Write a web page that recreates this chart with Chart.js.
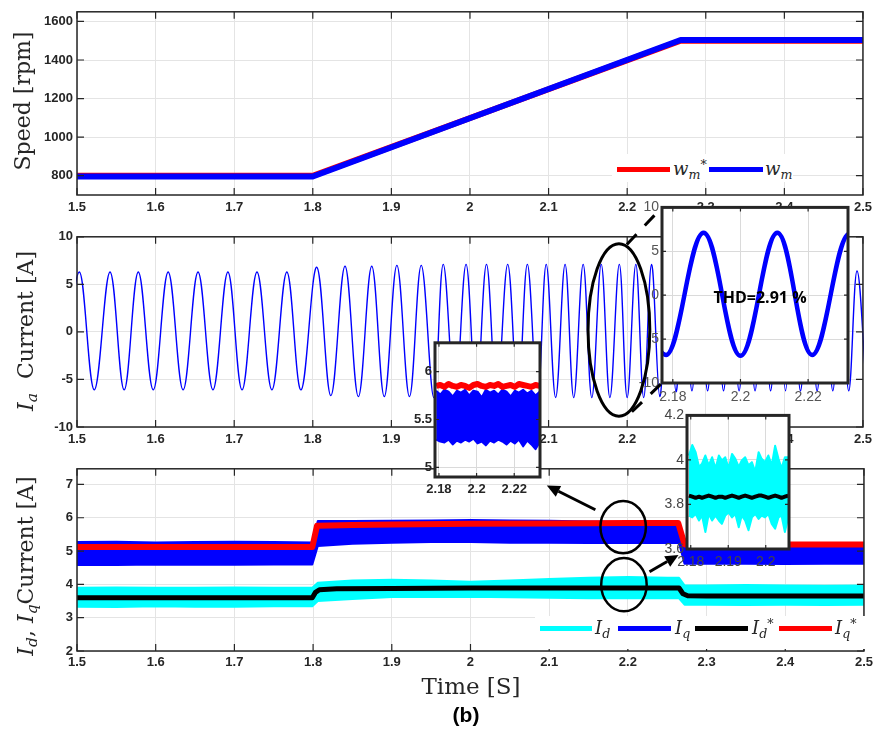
<!DOCTYPE html>
<html>
<head>
<meta charset="utf-8">
<script src="https://cdn.jsdelivr.net/npm/chart.js@4.4.1/dist/chart.umd.min.js"></script>
<style>
html,body{margin:0;padding:0;background:#fff;}
#fig{position:relative;width:877px;height:737px;overflow:hidden;background:#fff;}
#fig canvas{position:absolute;}
.ylab{position:absolute;transform:translate(-50%,-50%) rotate(-90deg);white-space:nowrap;
  font-family:'DejaVu Serif',serif;font-size:22px;color:#262626;}
.ylab i,.lg i{font-style:italic;}
.ylab sub,.lg sub{font-size:70%;vertical-align:-0.3em;line-height:0;}
.lg sup{font-size:70%;vertical-align:0.5em;line-height:0;}
.lg{position:absolute;background:#fff;}
.lg .ln{position:absolute;height:5px;}
.lg .tx{position:absolute;font-family:'DejaVu Serif',serif;font-size:18px;color:#262626;line-height:24px;height:24px;white-space:nowrap;}
.txt{position:absolute;transform:translate(-50%,-50%);white-space:nowrap;}
</style>
</head>
<body>
<div id="fig">
  <canvas id="cSpeed" width="877" height="225" style="left:0;top:0"></canvas>
  <canvas id="cIa" width="877" height="232" style="left:0;top:225px"></canvas>
  <canvas id="cIdq" width="877" height="224" style="left:0;top:457px"></canvas>
  <canvas id="cInIa" width="222" height="211" style="left:632px;top:196px"></canvas>
  <canvas id="cInIq" width="137" height="169" style="left:409px;top:332px"></canvas>
  <canvas id="cInId" width="136" height="169" style="left:659px;top:404px"></canvas>
  <canvas id="cOver" width="877" height="737" style="left:0;top:0;pointer-events:none"></canvas>

  <div class="ylab" style="left:22px;top:101px">Speed [rpm]</div>
  <div class="ylab" style="left:25px;top:331px"><i>I</i><sub><i>a</i></sub>&nbsp; Current [A]</div>
  <div class="ylab" style="left:25px;top:566px"><i>I</i><sub><i>d</i></sub>, <i>I</i><sub><i>q</i></sub>Current [A]</div>

  <div class="lg" style="left:612px;top:154px;width:181px;height:28px">
    <div class="ln" style="left:5px;top:13px;width:53px;background:#ff0000"></div>
    <div class="tx" style="left:61px;top:3px"><i>w</i><sub><i>m</i></sub><sup>*</sup></div>
    <div class="ln" style="left:97px;top:13px;width:54px;background:#0000ff"></div>
    <div class="tx" style="left:153px;top:3px"><i>w</i><sub><i>m</i></sub></div>
  </div>

  <div class="lg" style="left:535px;top:616px;width:330px;height:33px">
    <div class="ln" style="left:5px;top:10px;width:52px;background:#00ffff"></div>
    <div class="tx" style="left:60px;top:0"><i>I</i><sub><i>d</i></sub></div>
    <div class="ln" style="left:83px;top:10px;width:53px;background:#0000ff"></div>
    <div class="tx" style="left:140px;top:0"><i>I</i><sub><i>q</i></sub></div>
    <div class="ln" style="left:160px;top:10px;width:53px;background:#000000"></div>
    <div class="tx" style="left:217px;top:0"><i>I</i><sub><i>d</i></sub><sup>*</sup></div>
    <div class="ln" style="left:244px;top:10px;width:53px;background:#ff0000"></div>
    <div class="tx" style="left:300px;top:0"><i>I</i><sub><i>q</i></sub><sup>*</sup></div>
  </div>

  <div class="txt" style="left:760px;top:297px;font-family:'Open Sans',sans-serif;font-weight:bold;font-size:16px;color:#000">THD=2.91 %</div>
  <div class="txt" style="left:471px;top:686px;font-family:'DejaVu Serif',serif;font-size:23px;color:#262626">Time [S]</div>
  <div class="txt" style="left:466px;top:715px;font-family:'Liberation Sans',Arial,sans-serif;font-weight:bold;font-size:21px;color:#000">(b)</div>
</div>

<script>
'use strict';

// ═══ DATA ═══
// axis ticks
var xTicksMain = [1.5, 1.6, 1.7, 1.8, 1.9, 2, 2.1, 2.2, 2.3, 2.4, 2.5];
var spTicks    = [800, 1000, 1200, 1400, 1600];
var iaTicks    = [-10, -5, 0, 5, 10];
var idqTicks   = [2, 3, 4, 5, 6, 7];
var inIaXTicks = [2.18, 2.2, 2.22];
var inIqXTicks = [2.18, 2.2, 2.22];
var inIqYTicks = [5, 5.5, 6];
var inIdXTicks = [2.18, 2.19, 2.2];
var inIdYTicks = [3.6, 3.8, 4, 4.2];

// speed: reference and measured
var spT    = [1.5, 1.8, 2.268, 2.5];
var spRef  = [800, 800, 1500, 1500];
var spMeas = [796, 796, 1504, 1504];

// phase current: extrema (time, value)
var iaT = [1.4845, 1.503, 1.522, 1.542, 1.560, 1.578, 1.597, 1.616, 1.635, 1.654, 1.673, 1.692, 1.710, 1.729,
  1.748, 1.767, 1.785, 1.805, 1.823, 1.841, 1.858, 1.875, 1.891, 1.907, 1.923, 1.938, 1.954, 1.966, 1.981,
  1.995, 2.008, 2.021, 2.034, 2.048, 2.061, 2.073, 2.086, 2.097, 2.109, 2.121, 2.132, 2.144, 2.155, 2.167,
  2.178, 2.190, 2.200, 2.211, 2.221, 2.231, 2.2415, 2.2518, 2.2621, 2.2722, 2.2824, 2.2923, 2.3023, 2.3125,
  2.3226, 2.3325, 2.3424, 2.3525, 2.3627, 2.3726, 2.3825, 2.3920, 2.4015, 2.4110, 2.4205, 2.4311, 2.4417,
  2.4516, 2.4616, 2.4717, 2.4819, 2.4924, 2.5045];
var iaV = [-6.1, 6.3, -6.1, 6.3, -6.1, 6.3, -6.1, 6.3, -6.1, 6.3, -6.1, 6.3, -6.1, 6.3,
  -6.1, 6.3, -6.1, 6.8, -6.7, 6.9, -6.8, 6.9, -6.8, 7.0, -6.8, 7.0, -6.9, 7.1, -6.9,
  7.1, -6.9, 7.1, -6.9, 7.1, -6.9, 7.1, -6.9, 7.1, -6.9, 7.1, -6.9, 7.1, -6.9, 7.1,
  -6.9, 7.1, -6.9, 7.1, -6.9, 7.1, -6.8, 6.8, -6.3, 6.4, -6.2, 6.4, -6.2, 6.4,
  -6.2, 6.4, -6.2, 6.4, -6.2, 6.4, -6.2, 6.4, -6.2, 6.4, -6.2, 6.4, -6.2,
  6.4, -6.2, 6.4, -6.2, 6.4, -6.2];

// zoomed phase current (inset)
var inIaT = [2.168, 2.178, 2.1891, 2.2, 2.2109, 2.2212, 2.2322, 2.2425];
var inIaV = [7.0, -6.8, 7.1, -6.9, 7.1, -6.8, 7.0, -6.8];

// dq currents: noise envelopes (upper / lower) and references
var dqT  = [1.5, 1.55, 1.6, 1.65, 1.7, 1.75, 1.799, 1.806, 1.85, 1.9, 1.95, 2.0, 2.05, 2.1, 2.15, 2.2, 2.25, 2.265, 2.272, 2.3, 2.35, 2.4, 2.45, 2.5];
var iqHi = [5.27, 5.28, 5.26, 5.27, 5.28, 5.27, 5.26, 5.9, 5.9, 5.91, 5.92, 5.93, 5.92, 5.91, 5.89, 5.87, 5.86, 5.86, 5.16, 5.15, 5.16, 5.15, 5.17, 5.16];
var iqLo = [4.58, 4.58, 4.6, 4.59, 4.59, 4.6, 4.6, 5.15, 5.22, 5.25, 5.27, 5.27, 5.25, 5.25, 5.24, 5.24, 5.24, 5.24, 4.62, 4.62, 4.62, 4.61, 4.62, 4.62];
var idHi = [3.9, 3.91, 3.9, 3.9, 3.91, 3.9, 3.9, 4.05, 4.12, 4.14, 4.12, 4.08, 4.12, 4.16, 4.2, 4.22, 4.2, 4.2, 3.97, 3.97, 3.98, 3.97, 3.96, 3.97];
var idLo = [3.33, 3.32, 3.34, 3.33, 3.33, 3.34, 3.34, 3.5, 3.56, 3.62, 3.62, 3.63, 3.61, 3.6, 3.58, 3.58, 3.58, 3.58, 3.39, 3.39, 3.38, 3.39, 3.38, 3.39];
var idRefT = [1.5, 1.799, 1.803, 1.808, 1.83, 1.9, 2.0, 2.1, 2.2, 2.265, 2.27, 2.276, 2.3, 2.5];
var idRefV = [3.6, 3.6, 3.76, 3.84, 3.87, 3.88, 3.89, 3.89, 3.89, 3.89, 3.72, 3.66, 3.65, 3.65];
var iqRefT = [1.5, 1.799, 1.805, 1.85, 1.9, 2.0, 2.1, 2.2, 2.264, 2.272, 2.5];
var iqRefV = [5.12, 5.12, 5.76, 5.78, 5.8, 5.82, 5.83, 5.84, 5.84, 5.2, 5.2];

// zoomed Iq (inset, 2.178 .. 2.234)
var inIqT = [2.1785, 2.1807, 2.1829, 2.1851, 2.1873, 2.1895, 2.1917, 2.1939, 2.1961, 2.1983, 2.2005, 2.2027, 2.2049,
  2.2071, 2.2093, 2.2115, 2.2137, 2.2159, 2.2181, 2.2203, 2.2225, 2.2247, 2.2269, 2.2291, 2.2313, 2.2335];
var inIqHi = [5.80, 5.76, 5.81, 5.79, 5.74, 5.80, 5.78, 5.81, 5.75, 5.80, 5.79, 5.73, 5.81, 5.78, 5.80, 5.76, 5.81,
  5.79, 5.74, 5.80, 5.78, 5.81, 5.77, 5.80, 5.75, 5.79];
var inIqLo = [5.29, 5.27, 5.26, 5.29, 5.24, 5.28, 5.26, 5.29, 5.27, 5.30, 5.25, 5.27, 5.23, 5.28, 5.26, 5.29, 5.27,
  5.24, 5.28, 5.25, 5.29, 5.22, 5.28, 5.24, 5.19, 5.26];
var inIqRef = [5.85, 5.86, 5.84, 5.87, 5.85, 5.84, 5.86, 5.85, 5.83, 5.86, 5.87, 5.85, 5.84, 5.86, 5.85, 5.87, 5.84,
  5.85, 5.86, 5.84, 5.87, 5.86, 5.85, 5.84, 5.86, 5.85];

// zoomed Id (inset, 2.179 .. 2.206)
var inIdT = [2.1795, 2.1804, 2.1813, 2.1822, 2.1830, 2.1839, 2.1848, 2.1857, 2.1866, 2.1875, 2.1883, 2.1892, 2.1901,
  2.1910, 2.1919, 2.1928, 2.1936, 2.1945, 2.1954, 2.1963, 2.1972, 2.1981, 2.1989, 2.1998, 2.2007, 2.2016, 2.2025,
  2.2034, 2.2042, 2.2051, 2.2060];
var inIdHi = [4.02, 4.067, 4.035, 3.969, 3.983, 4.02, 3.976, 4.012, 3.962, 4.02, 3.998, 4.012, 3.962, 4.027, 4.005,
  3.969, 3.998, 4.012, 3.976, 3.990, 3.947, 4.035, 4.005, 3.990, 4.02, 3.976, 4.064, 4.005, 3.962, 4.012, 4.012];
var inIdLo = [3.750, 3.742, 3.757, 3.728, 3.750, 3.676, 3.757, 3.728, 3.750, 3.728, 3.713, 3.750, 3.764, 3.742, 3.757,
  3.698, 3.750, 3.728, 3.684, 3.742, 3.757, 3.735, 3.750, 3.742, 3.757, 3.713, 3.691, 3.742, 3.750, 3.676, 3.742];
var inIdRef = [3.84, 3.835, 3.83, 3.835, 3.83, 3.835, 3.84, 3.835, 3.83, 3.835, 3.835, 3.83, 3.835, 3.84, 3.835,
  3.83, 3.835, 3.84, 3.835, 3.83, 3.835, 3.84, 3.84, 3.835, 3.83, 3.835, 3.84, 3.835, 3.83, 3.835, 3.84];

// annotations, in data units of the panel they sit on
var ellIa  = {t: 2.1895, v: 0.2,  rt: 0.0393, rv: 9.06};
var ellIq  = {t: 2.194,  v: 5.72, rt: 0.0289, rv: 0.785};
var ellId  = {t: 2.195,  v: 3.99, rt: 0.0289, rv: 0.80};
var dashUp = {t: 2.1996, v: 9.2};
var dashDn = {t: 2.206,  v: -8.4};
var arrIq  = {t0: 2.1587, v0: 6.24, t1: 2.097,  v1: 6.97};
var arrId  = {t0: 2.2275, v0: 4.38, t1: 2.2643, v1: 4.88};

// ═══ HELPERS ═══
var BLUE = '#0000ff', RED = '#ff0000', CYAN = '#00ffff', BLACK = '#000000';
var AX = '#262626';

function pts(t, v){ return t.map(function(x, i){ return {x: x, y: v[i]}; }); }
function fmt(v){ return String(Math.round(v * 1000) / 1000); }

// MATLAB-ish box: white plot area, inward ticks, frame on top
var framePlugin = {
  id: 'frame',
  beforeDraw: function(c){
    var a = c.chartArea;
    c.ctx.save();
    c.ctx.fillStyle = '#fff';
    c.ctx.fillRect(a.left, a.top, a.right - a.left, a.bottom - a.top);
    c.ctx.restore();
  },
  afterDraw: function(c, args, o){
    var ctx = c.ctx, a = c.chartArea, L = o.tick;
    ctx.save();
    ctx.strokeStyle = AX;
    ctx.lineWidth = 1.2;
    ctx.beginPath();
    c.scales.x.ticks.forEach(function(t){
      var p = c.scales.x.getPixelForValue(t.value);
      ctx.moveTo(p, a.bottom); ctx.lineTo(p, a.bottom - L);
      ctx.moveTo(p, a.top); ctx.lineTo(p, a.top + L);
    });
    c.scales.y.ticks.forEach(function(t){
      var p = c.scales.y.getPixelForValue(t.value);
      ctx.moveTo(a.left, p); ctx.lineTo(a.left + L, p);
      ctx.moveTo(a.right, p); ctx.lineTo(a.right - L, p);
    });
    ctx.stroke();
    ctx.lineWidth = o.width;
    ctx.strokeRect(a.left, a.top, a.right - a.left, a.bottom - a.top);
    ctx.restore();
  }
};

function makeChart(id, cfg){
  return new Chart(document.getElementById(id), {
    type: 'line',
    data: { datasets: cfg.datasets },
    options: {
      responsive: false, animation: false, events: [],
      layout: { padding: cfg.pad, autoPadding: false },
      elements: { point: { radius: 0 }, line: { borderJoinStyle: 'round' } },
      plugins: { legend: { display: false }, tooltip: { enabled: false }, frame: { tick: cfg.tick, width: cfg.frameW } },
      scales: {
        x: {
          type: 'linear', min: cfg.x[0], max: cfg.x[1],
          afterBuildTicks: function(s){ s.ticks = cfg.xt.map(function(v){ return {value: v}; }); },
          afterFit: function(s){ s.height = cfg.xh; },
          grid: { color: cfg.grid, drawTicks: false },
          border: { display: false },
          ticks: { font: cfg.font, color: cfg.tc, padding: cfg.xp, autoSkip: false, maxRotation: 0, callback: fmt }
        },
        y: {
          type: 'linear', min: cfg.y[0], max: cfg.y[1],
          afterBuildTicks: function(s){ s.ticks = cfg.yt.map(function(v){ return {value: v}; }); },
          afterFit: function(s){ s.width = cfg.yw; },
          grid: { color: cfg.grid, drawTicks: false },
          border: { display: false },
          ticks: { font: cfg.font, color: cfg.tc, padding: cfg.yp, autoSkip: false, callback: fmt }
        }
      }
    },
    plugins: [framePlugin]
  });
}

function lineDs(data, color, w, order, extra){
  var d = { data: data, borderColor: color, backgroundColor: color, borderWidth: w, fill: false,
            tension: 0, order: order, clip: 0 };
  if(extra) Object.assign(d, extra);
  return d;
}

var mainFont = { family: "'Liberation Sans', Arial, sans-serif", size: 13, weight: 'bold' };
var insetFont = { family: "'Liberation Sans', Arial, sans-serif", size: 14 };
var GRID = '#e4e4e4';

// ═══ MAIN PANELS ═══
var chSpeed = makeChart('cSpeed', {
  pad: { top: 7, right: 11, left: 0, bottom: 0 }, x: [1.5, 2.5], y: [700, 1650],
  xt: xTicksMain, yt: spTicks, xh: 30, yw: 77, xp: 5, yp: 4, tick: 7, frameW: 1.5,
  font: mainFont, tc: AX, grid: GRID,
  datasets: [
    lineDs(pts(spT, spMeas), BLUE, 6, 0),
    lineDs(pts(spT, spRef), RED, 6, 1)
  ]
});

var chIa = makeChart('cIa', {
  pad: { top: 10, right: 11, left: 0, bottom: 0 }, x: [1.5, 2.5], y: [-10, 10],
  xt: xTicksMain, yt: iaTicks, xh: 30, yw: 77, xp: 5, yp: 4, tick: 7, frameW: 1.5,
  font: mainFont, tc: AX, grid: GRID,
  datasets: [
    lineDs(pts(iaT, iaV), BLUE, 1.4, 0, { tension: 0.38, clip: 1 })
  ]
});

var chIdq = makeChart('cIdq', {
  pad: { top: 6, right: 11, left: 0, bottom: 0 }, x: [1.5, 2.5], y: [2, 7.47],
  xt: xTicksMain, yt: idqTicks, xh: 30, yw: 77, xp: 4, yp: 4, tick: 7, frameW: 1.5,
  font: mainFont, tc: AX, grid: GRID,
  datasets: [
    lineDs(pts(dqT, idHi), CYAN, 2, 5, { fill: '+1' }),
    lineDs(pts(dqT, idLo), CYAN, 2, 5),
    lineDs(pts(dqT, iqHi), BLUE, 2, 4, { fill: '+1' }),
    lineDs(pts(dqT, iqLo), BLUE, 2, 4),
    lineDs(pts(idRefT, idRefV), BLACK, 5, 1),
    lineDs(pts(iqRefT, iqRefV), RED, 6, 0)
  ]
});

// ═══ INSETS ═══
var chInIa = makeChart('cInIa', {
  pad: { top: 10, right: 6, left: 0, bottom: 0 }, x: [2.1768, 2.2318], y: [-10, 10],
  xt: inIaXTicks, yt: iaTicks, xh: 24, yw: 30, xp: 6, yp: 3, tick: 4, frameW: 3,
  font: insetFont, tc: '#555', grid: '#dadada',
  datasets: [
    lineDs(pts(inIaT, inIaV), BLUE, 4.5, 0, { tension: 0.38 })
  ]
});

var chInIq = makeChart('cInIq', {
  pad: { top: 6, right: 6, left: 0, bottom: 0 }, x: [2.1779, 2.2337], y: [4.9, 6.3],
  xt: inIqXTicks, yt: inIqYTicks, xh: 24, yw: 26, xp: 5, yp: 3, tick: 4, frameW: 3,
  font: mainFont, tc: AX, grid: '#dadada',
  datasets: [
    lineDs(pts(inIqT, inIqHi), BLUE, 2, 2, { fill: '+1' }),
    lineDs(pts(inIqT, inIqLo), BLUE, 2, 2),
    lineDs(pts(inIqT, inIqRef), RED, 6, 0)
  ]
});

var chInId = makeChart('cInId', {
  pad: { top: 8, right: 6, left: 0, bottom: 0 }, x: [2.179, 2.2062], y: [3.6, 4.2],
  xt: inIdXTicks, yt: inIdYTicks, xh: 24, yw: 28, xp: 5, yp: 3, tick: 4, frameW: 3,
  font: insetFont, tc: '#444', grid: '#dadada',
  datasets: [
    lineDs(pts(inIdT, inIdHi), CYAN, 2, 2, { fill: '+1' }),
    lineDs(pts(inIdT, inIdLo), CYAN, 2, 2),
    lineDs(pts(inIdT, inIdRef), BLACK, 4, 0)
  ]
});

// ═══ OVERLAY: ellipses, dashed leaders, arrows ═══
function toPage(ch, t, v){
  var cv = ch.canvas;
  return [cv.offsetLeft + ch.scales.x.getPixelForValue(t), cv.offsetTop + ch.scales.y.getPixelForValue(v)];
}
function corner(ch, which){
  var a = ch.chartArea, cv = ch.canvas;
  var x = which.indexOf('l') >= 0 ? a.left : a.right;
  var y = which.indexOf('t') >= 0 ? a.top : a.bottom;
  return [cv.offsetLeft + x, cv.offsetTop + y];
}
function drawEllipse(ctx, ch, e, w){
  var c = toPage(ch, e.t, e.v), r = toPage(ch, e.t + e.rt, e.v + e.rv);
  ctx.lineWidth = w;
  ctx.beginPath();
  ctx.ellipse(c[0], c[1], Math.abs(r[0] - c[0]), Math.abs(c[1] - r[1]), 0, 0, Math.PI * 2);
  ctx.stroke();
}
function drawArrow(ctx, p0, p1){
  var ang = Math.atan2(p1[1] - p0[1], p1[0] - p0[0]), hl = 13, hw = 6;
  var bx = p1[0] - hl * Math.cos(ang), by = p1[1] - hl * Math.sin(ang);
  ctx.lineWidth = 3;
  ctx.beginPath(); ctx.moveTo(p0[0], p0[1]); ctx.lineTo(bx, by); ctx.stroke();
  ctx.beginPath();
  ctx.moveTo(p1[0], p1[1]);
  ctx.lineTo(bx + hw * Math.sin(ang), by - hw * Math.cos(ang));
  ctx.lineTo(bx - hw * Math.sin(ang), by + hw * Math.cos(ang));
  ctx.closePath(); ctx.fill();
}

(function(){
  var ctx = document.getElementById('cOver').getContext('2d');
  ctx.strokeStyle = BLACK; ctx.fillStyle = BLACK; ctx.lineCap = 'butt';
  drawEllipse(ctx, chIa, ellIa, 3);
  drawEllipse(ctx, chIdq, ellIq, 2.5);
  drawEllipse(ctx, chIdq, ellId, 2.5);

  ctx.lineWidth = 3;
  ctx.setLineDash([14, 12]);
  var s1 = toPage(chIa, dashUp.t, dashUp.v), e1 = corner(chInIa, 'tl');
  var s2 = toPage(chIa, dashDn.t, dashDn.v), e2 = corner(chInIa, 'bl');
  ctx.beginPath(); ctx.moveTo(s1[0], s1[1]); ctx.lineTo(e1[0], e1[1]); ctx.stroke();
  ctx.beginPath(); ctx.moveTo(s2[0], s2[1]); ctx.lineTo(e2[0], e2[1]); ctx.stroke();
  ctx.setLineDash([]);

  drawArrow(ctx, toPage(chIdq, arrIq.t0, arrIq.v0), toPage(chIdq, arrIq.t1, arrIq.v1));
  drawArrow(ctx, toPage(chIdq, arrId.t0, arrId.v0), toPage(chIdq, arrId.t1, arrId.v1));
})();
</script>
</body>
</html>
